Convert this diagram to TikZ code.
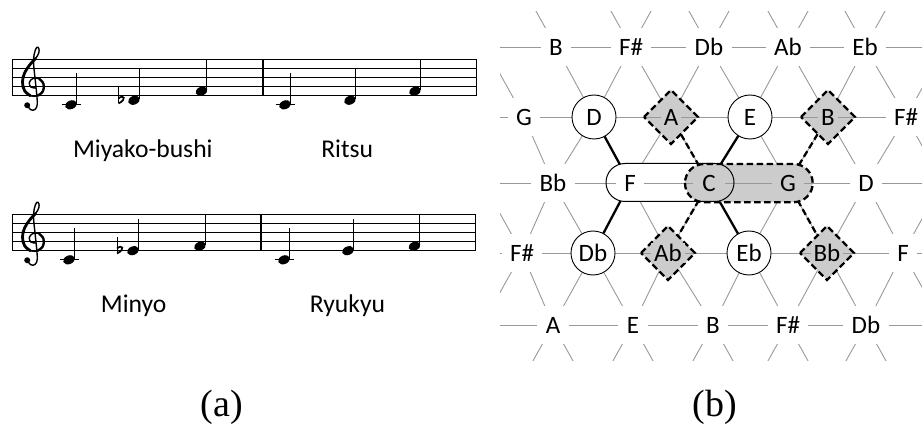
\documentclass[tikz,border=0pt]{standalone}
\usepackage{fontspec}
\setmainfont{Carlito}
\newfontfamily\timesfont{Liberation Serif}
\definecolor{latgray}{gray}{0.6}
\definecolor{shgray}{gray}{0.8}
\tikzset{
 lat/.style={draw=latgray, line width=0.9pt},
 lab/.style={fill=white, inner xsep=8.5pt, inner ysep=0pt, minimum height=38pt, font=\fontsize{25}{29}\selectfont},
 inlab/.style={inner xsep=3pt, inner ysep=0pt, minimum height=20pt, font=\fontsize{25}{29}\selectfont},
 thk/.style={line width=2.3pt},
 dsh/.style={line width=2.3pt, dash pattern=on 6.5pt off 3.5pt},
 ring/.style={circle, draw, line width=0.9pt, fill=white, minimum size=44pt, inner sep=0pt, font=\fontsize{25}{29}\selectfont},
 stafftxt/.style={font=\fontsize{25.6}{29}\selectfont, anchor=base, inner sep=0pt},
 captxt/.style={font=\timesfont\fontsize{38}{42}\selectfont, anchor=base, inner sep=0pt},
}
\newcommand\mystaff[4]{%
  \foreach \k in {0,...,4}{\draw[line width=0.8pt] (#1,#3+\k*9.1) -- (#2,#3+\k*9.1);}
  \draw[line width=1pt] (#1,#3) -- (#1,#3+36.4);
  \draw[line width=1.3pt] (#4,#3) -- (#4,#3+36.4);
  \draw[line width=1pt] (#2,#3) -- (#2,#3+36.4);
}
\newcommand\mynote[2]{%
  \fill[rotate around={22:(#1,#2)}] (#1,#2) ellipse[x radius=6.1pt, y radius=4.3pt];
  \draw[line width=1pt] (#1+5.4,#2-1) -- (#1+5.4,#2-32);
}
\newcommand\myledger[2]{\draw[line width=0.9pt] (#1-9.5,#2) -- (#1+9.5,#2);}
\newcommand\myflat[2]{%
  \draw[line width=1pt] (#1,#2-12) -- (#1,#2+4.5);
  \draw[line width=1.7pt] (#1,#2-0.5) .. controls (#1+5,#2-5) and (#1+9,#2) .. (#1,#2+4.5);
}
\newcommand\myclef[2]{%
 \begin{scope}[shift={(#1,#2)},x=10.5pt,y=9.1pt,line cap=round,line join=round]
 \draw[line width=1.4pt] plot[smooth,tension=0.65] coordinates {(-0.55,-1.05) (-0.2,-1.55) (0.2,-1.5) (0.4,-1.0) (0.38,-0.2) (0.28,1.0) (0.15,2.4) (0.05,3.6) (0.12,4.6) (0.35,5.3) (0.55,5.2) (0.55,4.7) (0.25,4.1) (-0.3,3.4) (-0.8,2.5) (-1.0,1.5) (-0.8,0.55) (-0.25,0.0) (0.45,0.0) (0.95,0.5) (1.0,1.3) (0.6,1.85) (0.0,1.9) (-0.35,1.45) (-0.2,0.95) (0.2,0.85)};
 \draw[line width=2.8pt] plot[smooth,tension=0.65] coordinates {(0.25,4.1) (-0.3,3.4) (-0.8,2.5) (-1.0,1.5) (-0.8,0.55) (-0.25,0.0)};
 \draw[line width=2.3pt] plot[smooth,tension=0.65] coordinates {(0.45,0.0) (0.95,0.5) (1.0,1.3) (0.6,1.85)};
 \fill (-0.55,-1.05) circle[radius=3pt];
 \end{scope}}
\begin{document}
\begin{tikzpicture}[x=1pt,y=-1pt]
\useasboundingbox (0,0) rectangle (922,425);
% ---------- (a) staves ----------
\mystaff{12.5}{476}{59.3}{263}
\myclef{33}{95.7}
\myledger{71}{104.8}\mynote{71}{104.8}
\myflat{118.5}{99}\mynote{134}{100.25}
\mynote{201.5}{91.15}
\myledger{285}{104.8}\mynote{285}{104.8}
\mynote{350}{100.25}
\mynote{415}{91.15}
\mystaff{12.3}{475}{214.3}{261}
\myclef{33}{250.7}
\myledger{69}{259.8}\mynote{69}{259.8}
\myflat{117}{249}\mynote{133}{250.7}
\mynote{200}{246.15}
\myledger{284}{259.8}\mynote{284}{259.8}
\mynote{348}{250.7}
\mynote{414.5}{246.15}
\node[stafftxt] (t1) at (142.8,157.7) {Miyako-bushi};
\node[stafftxt] (t2) at (347.2,157.7) {Ritsu};
\node[stafftxt] (t3) at (133.7,312.7) {Minyo};
\node[stafftxt] (t4) at (347.5,312.7) {Ryukyu};
\node[captxt] (ca) at (222,416) {(a)};
\node[captxt] (cb) at (715,416) {(b)};
% ---------- (b) lattice ----------
\coordinate (B0) at (556,47); \coordinate (Fs0) at (631,47); \coordinate (Db0) at (709,47); \coordinate (Ab0) at (788,47); \coordinate (Eb0) at (865,47);
\coordinate (G1) at (524,117); \coordinate (D1) at (594,117); \coordinate (A1) at (671,117); \coordinate (E1) at (750,117); \coordinate (B1) at (828,117); \coordinate (Fs1) at (906,117);
\coordinate (Bb2) at (553,183); \coordinate (F2) at (630,183); \coordinate (C2) at (709,183); \coordinate (G2) at (788,183); \coordinate (D2) at (866,183);
\coordinate (Fs3) at (522,253); \coordinate (Db3) at (593,253); \coordinate (Ab3) at (668,253); \coordinate (Eb3) at (749,253); \coordinate (Bb3) at (827,253); \coordinate (F3) at (903,253);
\coordinate (A4) at (553,325); \coordinate (E4) at (633,325); \coordinate (B4) at (713,325); \coordinate (Fs4) at (788,325); \coordinate (Db4) at (866,325);
\coordinate (L0) at (500,47); \coordinate (R0) at (922,47);
\coordinate (L1) at (500,117); \coordinate (R1) at (922,117);
\coordinate (L2) at (500,183); \coordinate (R2) at (922,183);
\coordinate (L3) at (500,253); \coordinate (R3) at (922,253);
\coordinate (L4) at (500,325); \coordinate (R4) at (922,325);
\begin{scope}
\clip (500,12) rectangle (922,360);
\foreach \a/\b in {B0/D1,Fs0/D1,Fs0/A1,Db0/A1,Db0/E1,Ab0/E1,Ab0/B1,Eb0/B1,Eb0/Fs1,
 G1/Bb2,D1/Bb2,D1/F2,A1/F2,A1/C2,E1/C2,E1/G2,B1/G2,B1/D2,Fs1/D2,
 Bb2/Fs3,Bb2/Db3,F2/Db3,F2/Ab3,C2/Ab3,C2/Eb3,G2/Eb3,G2/Bb3,D2/Bb3,D2/F3,
 Fs3/A4,Db3/A4,Db3/E4,Ab3/E4,Ab3/B4,Eb3/B4,Eb3/Fs4,Bb3/Fs4,Bb3/Db4,F3/Db4}
 {\draw[lat] (\a) -- (\b);}
\foreach \n in {B0,Fs0,Db0,Ab0,Eb0,G1,Fs3} {\draw[lat] (\n) -- ++(-39,-70);}
\foreach \n in {Fs0,Db0,Ab0,Eb0,Fs1,F3} {\draw[lat] (\n) -- ++(39,-70);}
\foreach \n in {Fs3,A4,E4,B4,Fs4,Db4} {\draw[lat] (\n) -- ++(-39,70);}
\foreach \n in {Fs1,F3,A4,E4,B4,Fs4,Db4} {\draw[lat] (\n) -- ++(39,70);}
\end{scope}
% thick connectors
\draw[thk] (D1) -- (F2);
\draw[thk] (E1) -- (C2);
\draw[thk] (F2) -- (Db3);
\draw[thk] (C2) -- (Eb3);
\draw[dsh] (A1) -- (C2);
\draw[dsh] (B1) -- (G2);
\draw[dsh] (C2) -- (Ab3);
\draw[dsh] (G2) -- (Bb3);
% shape fills
\fill[white, rounded corners=19pt] (606,163.5) rectangle (734,201.5);
\fill[shgray, rounded corners=19pt] (685,164) rectangle (812.7,202.2);
\foreach \n in {A1,B1,Ab3,Bb3} {\fill[shgray] (\n) ++(-27,0) -- ++(27,-27) -- ++(27,27) -- ++(-27,27) -- cycle;}
% horizontal lattice lines
\begin{scope}
\clip (500,12) rectangle (922,360);
\foreach \i in {0,...,4} {\draw[lat] (L\i) -- (R\i);}
\end{scope}
% shape borders
\draw[dsh, rounded corners=19pt] (685,164) rectangle (812.7,202.2);
\draw[line width=1pt, rounded corners=19pt] (606,163.5) rectangle (734,201.5);
\foreach \n in {A1,B1,Ab3,Bb3} {\draw[dsh] (\n) ++(-27,0) -- ++(27,-27) -- ++(27,27) -- ++(-27,27) -- cycle;}
% circles
\node[ring] (cD1) at (D1) {D};
\node[ring] (cE1) at (E1) {E};
\node[ring] (cDb3) at (Db3) {Db};
\node[ring] (cEb3) at (Eb3) {Eb};
% labels in shapes
\node[inlab, fill=shgray] (lA1) at (A1) {A};
\node[inlab, fill=shgray] (lB1) at (B1) {B};
\node[inlab, fill=shgray] (lAb3) at (Ab3) {Ab};
\node[inlab, fill=shgray] (lBb3) at (Bb3) {Bb};
\node[inlab, fill=white, inner xsep=8pt] (lF2) at (F2) {F};
\node[inlab, fill=shgray, inner xsep=9pt] (lC2) at (C2) {C};
\node[inlab, fill=shgray, inner xsep=8pt] (lG2) at (G2) {G};
% plain labels
\node[lab] (lB0) at (B0) {B};
\node[lab] (lFs0) at (Fs0) {F\#};
\node[lab] (lDb0) at (Db0) {Db};
\node[lab] (lAb0) at (Ab0) {Ab};
\node[lab] (lEb0) at (Eb0) {Eb};
\node[lab] (lG1) at (G1) {G};
\node[lab] (lFs1) at (Fs1) {F\#};
\node[lab] (lBb2) at (Bb2) {Bb};
\node[lab] (lD2) at (D2) {D};
\node[lab] (lFs3) at (Fs3) {F\#};
\node[lab] (lF3) at (F3) {F};
\node[lab] (lA4) at (A4) {A};
\node[lab] (lE4) at (E4) {E};
\node[lab] (lB4) at (B4) {B};
\node[lab] (lFs4) at (Fs4) {F\#};
\node[lab] (lDb4) at (Db4) {Db};
\end{tikzpicture}
\end{document}
